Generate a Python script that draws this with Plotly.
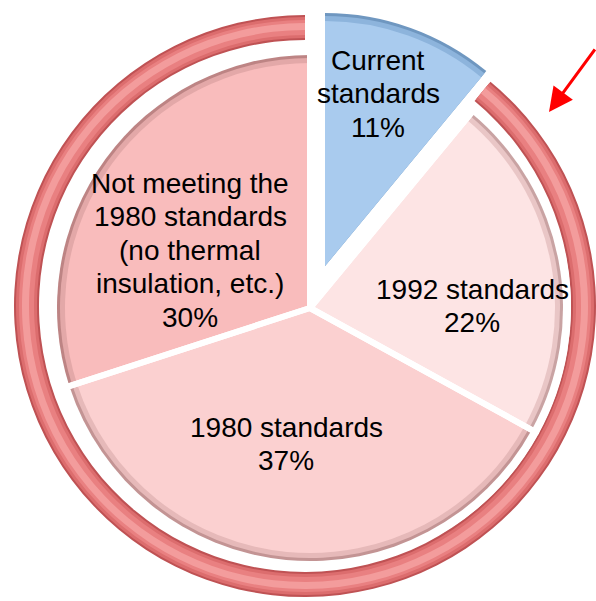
import plotly.graph_objects as go

# ---------------- data ----------------
categories = ["Current<br>standards", "1992 standards", "1980 standards",
              "Not meeting the<br>1980 standards<br>(no thermal<br>insulation, etc.)"]
shares = [11, 22, 37, 30]          # percent of houses
ring_values = [shares[0], sum(shares[1:])]   # ring surrounds the 89% not meeting current standards

# ---------------- styling ----------------
W, H = 596, 601
FILL = ["#A9CBEE", "#FDE4E4", "#FBD0D0", "#F9BCBC"]
SHADE = ["#6F97C0", "#C9A3A3", "#C39494", "#BD8484"]
CLEAR = "rgba(0,0,0,0)"

def dom(cx, cy, r):
    return dict(x=[max(0, (cx - r) / W), min(1, (cx + r) / W)],
                y=[max(0, (H - cy - r) / H), min(1, (H - cy + r) / H)])

fig = go.Figure()

common = dict(sort=False, direction="clockwise", rotation=0, textinfo="none",
              hoverinfo="skip", showlegend=False)

# ---- outer ring (bands for a tube look) ----
RCX, RCY = 305, 306
for r_out, r_in, col in [(291, 266, "#BF5254"), (289, 268, "#DC6D6E"),
                         (286, 271, "#E98081"), (283, 276, "#F39C9C")]:
    fig.add_trace(go.Pie(values=ring_values, hole=r_in / r_out, domain=dom(RCX, RCY, r_out),
                         marker=dict(colors=[CLEAR, col], line=dict(width=0)), **common))

# ---- main pie (three non-pulled slices) ----
PCX, PCY = 310, 308
for r, cols in [(253, SHADE), (250, [c for c in FILL]), (245, FILL)]:
    if r == 250:
        cols = ["", "#E9C6C6", "#E6B9B9", "#E3A8A8"]
    fig.add_trace(go.Pie(values=shares, domain=dom(PCX, PCY, r),
                         marker=dict(colors=[CLEAR] + cols[1:], line=dict(width=0)), **common))
# white separators between the slices
fig.add_trace(go.Pie(values=shares, domain=dom(PCX, PCY, 258),
                     marker=dict(colors=[CLEAR] * 4, line=dict(color="white", width=6)), **common))

# ---- pulled-out "current standards" slice ----
BCX, BCY = 325, 266
for r, col in [(253, SHADE[0]), (250, "#8DB4DC"), (245, FILL[0])]:
    fig.add_trace(go.Pie(values=ring_values, domain=dom(BCX, BCY, r),
                         marker=dict(colors=[col, CLEAR], line=dict(width=0)), **common))

# ---- labels ----
label_pos = [(378, 94), (472, 306), (286, 444), (190, 250)]
LINE = 33.5
annotations = []
for lab, v, (px, py) in zip(categories, shares, label_pos):
    lines = lab.split("<br>") + [f"{v}%"]
    n = len(lines)
    for k, t in enumerate(lines):
        annotations.append(dict(x=px / W, y=1 - py / H, xref="paper", yref="paper",
                                text=t, showarrow=False, xanchor="center", yanchor="middle",
                                yshift=-(k - (n - 1) / 2) * LINE,
                                font=dict(family="Liberation Sans, Arial, sans-serif",
                                          size=28, color="black")))

# red arrow pointing at the ring
annotations.append(dict(x=549 / W, y=1 - 112 / H, xref="paper", yref="paper", text="",
                        showarrow=True, ax=54, ay=-64, arrowhead=2, arrowsize=1.6,
                        arrowwidth=3, arrowcolor="#FF0000"))

fig.update_layout(width=W, height=H, margin=dict(l=0, r=0, t=0, b=0),
                  paper_bgcolor="white", plot_bgcolor="white",
                  annotations=annotations, showlegend=False)

fig.write_html("out.html")
